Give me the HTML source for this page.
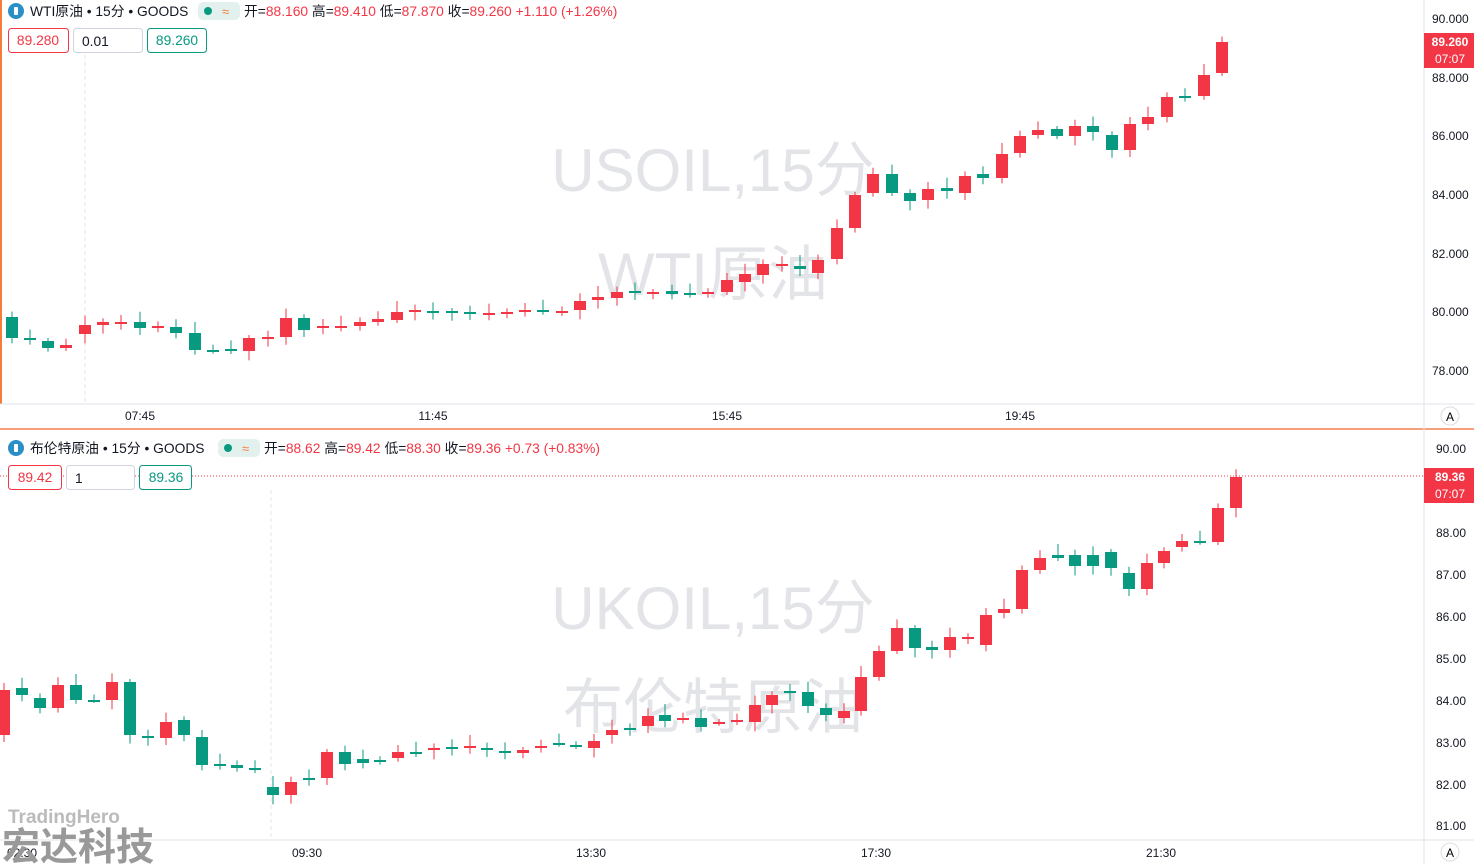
<!DOCTYPE html><html><head><meta charset="utf-8"><style>
body{margin:0;width:1474px;height:864px;overflow:hidden;background:#fff;font-family:"Liberation Sans","Noto Sans CJK SC",sans-serif}
svg{position:absolute;left:0;top:0}
</style></head><body>
<svg id="s" width="1474" height="864" xmlns="http://www.w3.org/2000/svg" font-family="Liberation Sans, Noto Sans CJK SC, sans-serif">
<rect x="0" y="0" width="1474" height="864" fill="#fff"/>
<line x1="1" y1="0" x2="1" y2="404" stroke="#f57c3a" stroke-width="2"/>
<line x1="0" y1="429" x2="1474" y2="429" stroke="#f5a07a" stroke-width="2"/>
<line x1="1424" y1="0" x2="1424" y2="864" stroke="#e0e3eb"/>
<line x1="0" y1="404" x2="1474" y2="404" stroke="#e0e3eb"/>
<line x1="0" y1="840" x2="1474" y2="840" stroke="#e0e3eb"/>
<line x1="85" y1="55" x2="85" y2="404" stroke="#e6e6e6" stroke-dasharray="4,3"/>
<line x1="271" y1="490" x2="271" y2="840" stroke="#e6e6e6" stroke-dasharray="4,3"/>
<line x1="0" y1="476" x2="1424" y2="476" stroke="#f23645" stroke-dasharray="1,2"/>
<g fill="#e2e4e8" font-size="60" text-anchor="middle">
<text x="713" y="191">USOIL,15分</text><text x="713" y="295">WTI原油</text>
<text x="713" y="629">UKOIL,15分</text><text x="713" y="728">布伦特原油</text></g>
<g id="c"></g>
<g font-size="12" fill="#131722">
<text x="1432" y="23">90.000</text><text x="1432" y="82">88.000</text><text x="1432" y="140">86.000</text><text x="1432" y="199">84.000</text><text x="1432" y="258">82.000</text><text x="1432" y="316">80.000</text><text x="1432" y="375">78.000</text>
<text x="1436" y="453">90.00</text><text x="1436" y="537">88.00</text><text x="1436" y="579">87.00</text><text x="1436" y="621">86.00</text><text x="1436" y="663">85.00</text><text x="1436" y="705">84.00</text><text x="1436" y="747">83.00</text><text x="1436" y="789">82.00</text><text x="1436" y="830">81.00</text>
<g text-anchor="middle"><text x="140" y="420">07:45</text><text x="433" y="420">11:45</text><text x="727" y="420">15:45</text><text x="1020" y="420">19:45</text>
<text x="22" y="857">02:30</text><text x="307" y="857">09:30</text><text x="591" y="857">13:30</text><text x="876" y="857">17:30</text><text x="1161" y="857">21:30</text></g>
</g>
<rect x="1424" y="33" width="50" height="35" fill="#f23645"/>
<text x="1450" y="46" fill="#fff" font-size="12" font-weight="bold" text-anchor="middle">89.260</text>
<text x="1450" y="63" fill="#fff" font-size="12" text-anchor="middle">07:07</text>
<rect x="1424" y="468" width="50" height="35" fill="#f23645"/>
<text x="1450" y="481" fill="#fff" font-size="12" font-weight="bold" text-anchor="middle">89.36</text>
<text x="1450" y="498" fill="#fff" font-size="12" text-anchor="middle">07:07</text>
<circle cx="1450" cy="416" r="9" fill="#fff" stroke="#ddd"/><text x="1450" y="421" font-size="12" text-anchor="middle">A</text>
<circle cx="1450" cy="852" r="9" fill="#fff" stroke="#ddd"/><text x="1450" y="857" font-size="12" text-anchor="middle">A</text>
<g font-size="13.8">
<circle cx="16" cy="11" r="8" fill="#2a8fc7"/><rect x="14" y="7" width="4" height="8" rx="1" fill="#fff"/>
<text x="30" y="16" fill="#131722">WTI原油 • 15分 • GOODS</text>
<rect x="198" y="2" width="42" height="18" rx="5" fill="#e3f1ee"/><circle cx="208" cy="11" r="4" fill="#089981"/><text x="222" y="16" fill="#f57c3a" font-size="13">≈</text>
<text x="244" y="16" fill="#131722">开=<tspan fill="#f23645">88.160</tspan> 高=<tspan fill="#f23645">89.410</tspan> 低=<tspan fill="#f23645">87.870</tspan> 收=<tspan fill="#f23645">89.260 +1.110 (+1.26%)</tspan></text>
<rect x="8.5" y="28.5" width="60" height="24" rx="3" fill="#fff" stroke="#f23645"/><text x="38" y="45" fill="#f23645" text-anchor="middle">89.280</text>
<rect x="73.5" y="28.5" width="69" height="24" rx="3" fill="#fff" stroke="#d1d4dc"/><text x="82" y="46" fill="#131722">0.01</text>
<rect x="147.5" y="28.5" width="59" height="24" rx="3" fill="#fff" stroke="#089981"/><text x="177" y="45" fill="#089981" text-anchor="middle">89.260</text>
<circle cx="16" cy="448" r="8" fill="#2a8fc7"/><rect x="14" y="444" width="4" height="8" rx="1" fill="#fff"/>
<text x="30" y="453" fill="#131722">布伦特原油 • 15分 • GOODS</text>
<rect x="218" y="439" width="42" height="18" rx="5" fill="#e3f1ee"/><circle cx="228" cy="448" r="4" fill="#089981"/><text x="242" y="453" fill="#f57c3a" font-size="13">≈</text>
<text x="264" y="453" fill="#131722">开=<tspan fill="#f23645">88.62</tspan> 高=<tspan fill="#f23645">89.42</tspan> 低=<tspan fill="#f23645">88.30</tspan> 收=<tspan fill="#f23645">89.36 +0.73 (+0.83%)</tspan></text>
<rect x="8.5" y="465.5" width="53" height="24" rx="3" fill="#fff" stroke="#f23645"/><text x="35" y="482" fill="#f23645" text-anchor="middle">89.42</text>
<rect x="66.5" y="465.5" width="68" height="24" rx="3" fill="#fff" stroke="#d1d4dc"/><text x="75" y="483" fill="#131722">1</text>
<rect x="139.5" y="465.5" width="52" height="24" rx="3" fill="#fff" stroke="#089981"/><text x="166" y="482" fill="#089981" text-anchor="middle">89.36</text>
</g>
<text x="8" y="823" font-size="19" font-weight="bold" fill="#bbb">TradingHero</text>
<text x="2" y="860" font-size="38" font-weight="bold" fill="#999">宏达科技</text>
</svg>
<script>
var T=[[12,317,338],[30,338,340],[48,341,348],[66,348,345],[85,334,325],[103,325,322],[121,322,322],[140,322,328],[158,326,326],[176,327,333],[195,333,350],[213,350,350],[231,349,351],[249,351,338],[268,338,337],[286,337,318],[304,318,330],[323,328,326],[341,326,326],[360,326,322],[378,322,319],[397,320,312],[415,311,310],[433,311,311],[452,311,313],[470,312,313],[489,314,313],[507,313,312],[525,312,310],[543,310,311],[562,313,311],[580,310,301],[598,300,297],[617,298,292],[635,291,293],[653,293,292],[672,291,294],[690,293,293],[708,294,292],[727,292,280],[745,282,274],[763,275,264],[782,264,264],[800,266,269],[818,273,260],[837,259,228],[855,228,195],[873,193,174],[892,174,193],[910,193,201],[928,200,189],[947,188,191],[965,193,176],[983,174,178],[1002,178,154],[1020,153,136],[1038,135,130],[1057,129,136],[1075,136,126],[1093,126,132],[1112,135,150],[1130,150,124],[1148,124,117],[1167,117,97],[1185,96,97],[1204,96,75],[1222,73,42]];
var B=[[4,735,690],[22,688,695],[40,698,708],[58,708,685],[76,685,700],[94,700,700],[112,700,682],[130,682,735],[148,736,738],[166,738,722],[184,720,735],[202,737,765],[220,764,765],[237,765,768],[255,768,770],[273,787,795],[291,795,782],[309,778,778],[327,778,752],[345,752,764],[363,759,763],[380,760,760],[398,758,752],[416,752,754],[434,750,748],[452,747,747],[470,746,746],[487,748,750],[505,751,753],[523,753,750],[541,748,746],[559,743,743],[576,745,746],[594,748,741],[612,735,730],[630,728,728],[648,726,716],[665,715,721],[683,718,718],[701,718,727],[719,722,722],[737,722,720],[755,722,705],[772,705,695],[790,691,693],[808,692,706],[826,708,715],[844,718,711],[861,711,677],[879,677,651],[897,651,628],[915,628,648],[932,647,650],[950,650,637],[968,637,637],[986,645,615],[1004,613,609],[1022,609,570],[1040,570,558],[1058,555,558],[1075,555,566],[1093,555,566],[1111,552,568],[1129,573,589],[1147,589,563],[1164,563,551],[1182,547,541],[1200,541,541],[1218,542,508],[1236,508,477]];
var g=document.getElementById('c'),h='';
function draw(a,w,seed){a.forEach(function(c,i){var x=c[0],o=c[1],cl=c[2];var up=cl<=o&&!(cl==o&&i%2);var col=up?'#f23645':'#089981';var t=Math.min(o,cl),b=Math.max(o,cl);var r=((i*37+seed)%11);var hi=t-3-r*0.8,lo=b+3+((i*53+seed)%9)*0.8;h+='<line x1="'+x+'" x2="'+x+'" y1="'+hi+'" y2="'+lo+'" stroke="'+col+'"/>';h+='<rect x="'+(x-w/2)+'" y="'+t+'" width="'+w+'" height="'+Math.max(2,b-t)+'" fill="'+col+'"/>';});}
draw(T,12,3);draw(B,12,5);g.innerHTML=h;
</script>
</body></html>
